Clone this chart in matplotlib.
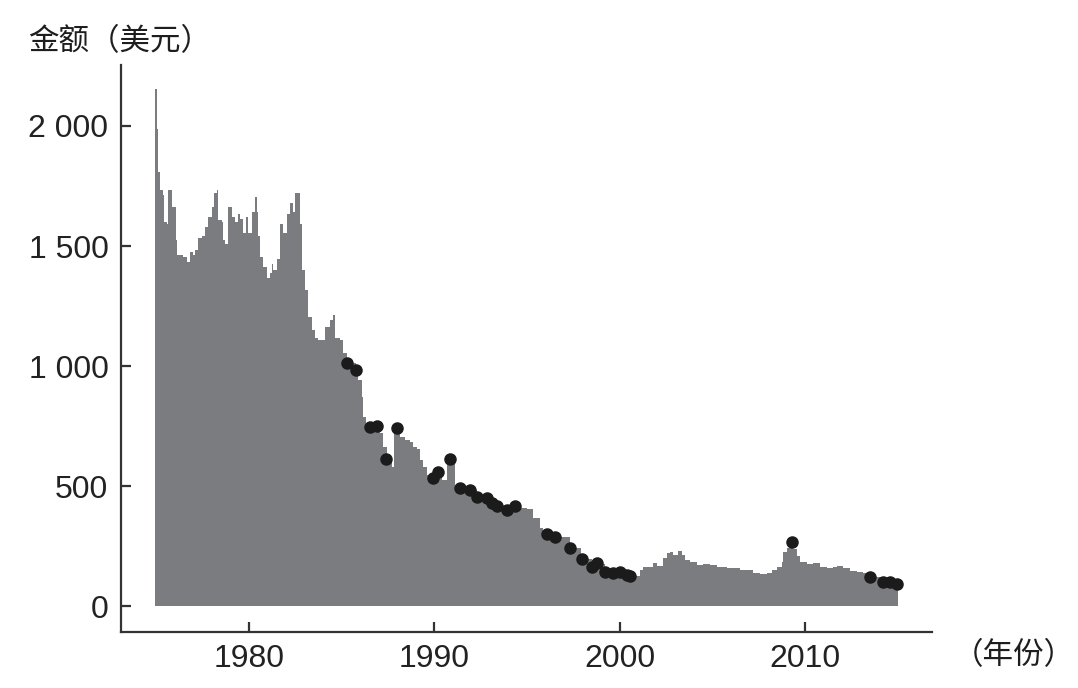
import numpy as np
import matplotlib.pyplot as plt
from matplotlib.ticker import FuncFormatter

# area series (year, amount in USD)
years = [1974.93, 1975.05, 1975.11, 1975.20, 1975.34, 1975.41, 1975.56, 1975.64, 1975.83, 1976.06,
         1976.13, 1976.44, 1976.64, 1976.82, 1976.99, 1977.09, 1977.26, 1977.45, 1977.63, 1977.80,
         1977.99, 1978.11, 1978.26, 1978.34, 1978.53, 1978.61, 1978.70, 1978.88, 1979.07, 1979.24,
         1979.39, 1979.51, 1979.69, 1979.84, 1979.96, 1980.15, 1980.32, 1980.41, 1980.50, 1980.59,
         1980.77, 1980.95, 1981.13, 1981.22, 1981.31, 1981.49, 1981.67, 1981.85, 1982.03, 1982.21,
         1982.36, 1982.48, 1982.66, 1982.75, 1982.84, 1983.02, 1983.20, 1983.38, 1983.56, 1983.74,
         1984.10, 1984.37, 1984.55, 1984.64, 1984.91, 1985.09, 1985.29, 1985.77, 1985.90, 1986.08,
         1986.17, 1986.31, 1986.91, 1987.07, 1987.25, 1987.43, 1987.70, 1987.84, 1988.15, 1988.42,
         1988.69, 1988.87, 1989.05, 1989.23, 1989.41, 1989.59, 1989.86, 1990.13, 1990.40, 1990.67,
         1990.94, 1991.12, 1991.39, 1991.93, 1992.29, 1992.83, 1993.10, 1993.40, 1993.91, 1994.36,
         1994.63, 1994.99, 1995.34, 1995.71, 1995.88, 1996.25, 1996.61, 1997.32, 1997.92, 1998.50,
         1998.77, 1999.21, 1999.57, 1999.93, 2000.29, 2000.56, 2001.10, 2001.28, 2001.82, 2002.00,
         2002.36, 2002.54, 2002.72, 2002.90, 2003.17, 2003.35, 2003.53, 2003.80, 2004.16, 2004.52,
         2004.88, 2005.24, 2005.78, 2006.50, 2007.22, 2007.58, 2007.94, 2008.21, 2008.48, 2008.75,
         2008.84, 2009.02, 2009.29, 2009.38, 2009.56, 2009.74, 2010.10, 2010.46, 2010.82, 2011.18,
         2011.53, 2011.72, 2012.07, 2012.44, 2012.80, 2013.15, 2013.52, 2014.23, 2014.59, 2014.96,
         2015.04]
amounts = [2154, 1987, 1808, 1733, 1712, 1600, 1592, 1733, 1662, 1525,
           1462, 1454, 1433, 1475, 1462, 1483, 1533, 1542, 1579, 1621,
           1662, 1721, 1733, 1608, 1600, 1525, 1508, 1662, 1621, 1600,
           1633, 1612, 1554, 1621, 1554, 1642, 1704, 1642, 1542, 1454,
           1412, 1367, 1387, 1425, 1400, 1446, 1592, 1554, 1633, 1679,
           1642, 1721, 1721, 1592, 1400, 1317, 1204, 1150, 1117, 1108,
           1162, 1192, 1212, 1117, 1108, 1054, 1012, 983, 942, 871,
           787, 746, 750, 721, 662, 617, 579, 725, 704, 692,
           683, 662, 654, 608, 579, 546, 533, 558, 525, 587,
           600, 496, 492, 483, 454, 450, 429, 417, 400, 412,
           409, 404, 365, 325, 317, 300, 288, 242, 196, 162,
           175, 146, 137, 142, 129, 125, 150, 162, 179, 167,
           200, 221, 225, 212, 229, 212, 192, 183, 171, 175,
           171, 162, 158, 150, 137, 133, 137, 150, 162, 183,
           225, 242, 250, 237, 208, 183, 175, 179, 162, 158,
           162, 167, 158, 148, 142, 137, 121, 104, 100, 92,
           92]

# black dots
dot_years = [1985.29, 1985.77, 1986.53, 1986.91, 1987.39, 1987.99, 1989.93, 1990.20, 1990.85, 1991.39,
             1991.93, 1992.29, 1992.83, 1993.10, 1993.40, 1993.91, 1994.36, 1996.08, 1996.53, 1997.32,
             1997.96, 1998.53, 1998.77, 1999.21, 1999.66, 2000.02, 2000.38, 2000.56, 2009.29, 2013.52,
             2014.23, 2014.59, 2014.96]
dot_amounts = [1012, 983, 746, 750, 612, 742, 533, 558, 612, 492,
               483, 454, 450, 429, 417, 400, 417, 300, 289, 242,
               196, 164, 181, 143, 139, 140, 129, 125, 267, 122,
               101, 101, 92]

xticks = [1980, 1990, 2000, 2010]
yticks = [0, 500, 1000, 1500, 2000]

plt.rcParams['font.family'] = ['Liberation Sans', 'Noto Sans CJK SC', 'DejaVu Sans']

fig = plt.figure(figsize=(10.78, 6.88), dpi=100)
ax = fig.add_axes([0.1122, 0.0814, 0.7524, 0.8241])

ax.fill_between(years, amounts, 0, step='post', color='#7a7c7f', linewidth=0)
ax.plot(dot_years, dot_amounts, 'o', color='#1b1b1b', markersize=8, zorder=3)

ax.set_xlim(1973.09, 2016.86)
ax.set_ylim(-108, 2254)
ax.set_xticks(xticks)
ax.set_yticks(yticks)
ax.yaxis.set_major_formatter(FuncFormatter(lambda v, p: f"{int(v):,}".replace(",", " ")))

for s in ['top', 'right']:
    ax.spines[s].set_visible(False)
for s in ['left', 'bottom']:
    ax.spines[s].set_color('#333333')
    ax.spines[s].set_linewidth(1.6)
ax.tick_params(direction='in', length=7, width=1.6, color='#333333',
               labelsize=23, labelcolor='#222222', pad=9)

fig.text(0.026, 0.94, '金额（美元）', fontsize=22, family=['Noto Sans CJK SC'],
         color='#1e1e1e', va='center', ha='left')
fig.text(0.884, 0.047, '（年份）', fontsize=22, family=['Noto Sans CJK SC'],
         color='#1e1e1e', va='center', ha='left')

fig.savefig('out.png', dpi=100)
